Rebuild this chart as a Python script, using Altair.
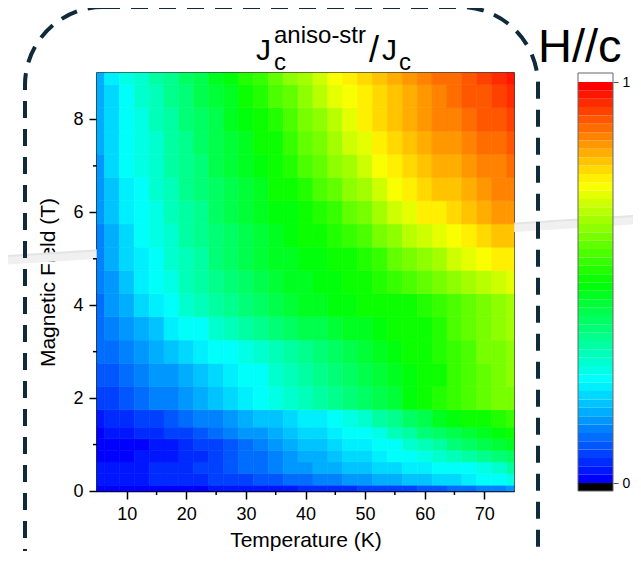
import altair as alt
import pandas as pd

# ---- data ----
temperature_K = [5, 7.5, 10, 12.5, 15, 17.5, 20, 22.5, 25, 27.5, 30, 32.5, 35, 37.5, 40,
                 42.5, 45, 47.5, 50, 52.5, 55, 57.5, 60, 62.5, 65, 67.5, 70, 72.5, 75]
field_T = [0, 0.25, 0.5, 0.75, 1, 1.25, 1.5, 2, 2.5, 3, 3.5, 4, 4.5, 5, 5.5, 6, 6.5, 7, 7.5, 8, 8.5, 9]

ratio_H0_00 = [0.01, 0.01, 0.01, 0.01, 0.02, 0.02, 0.02, 0.02, 0.03, 0.03, 0.03, 0.04, 0.04, 0.04, 0.05,
               0.05, 0.06, 0.06, 0.07, 0.07, 0.08, 0.08, 0.09, 0.10, 0.11, 0.12, 0.13, 0.14, 0.16]
ratio_H0_25 = [0.03, 0.03, 0.04, 0.04, 0.05, 0.05, 0.06, 0.06, 0.07, 0.07, 0.08, 0.09, 0.10, 0.11, 0.12,
               0.13, 0.14, 0.15, 0.16, 0.17, 0.18, 0.19, 0.20, 0.21, 0.22, 0.23, 0.25, 0.26, 0.28]
ratio_H0_50 = [0.03, 0.03, 0.04, 0.04, 0.05, 0.05, 0.06, 0.07, 0.08, 0.10, 0.11, 0.12, 0.13, 0.15, 0.16,
               0.17, 0.18, 0.19, 0.20, 0.21, 0.22, 0.23, 0.24, 0.25, 0.26, 0.27, 0.29, 0.31, 0.34]
ratio_H0_75 = [0.01, 0.02, 0.02, 0.03, 0.03, 0.04, 0.05, 0.06, 0.08, 0.09, 0.11, 0.12, 0.14, 0.15, 0.17,
               0.18, 0.20, 0.21, 0.22, 0.23, 0.25, 0.27, 0.29, 0.31, 0.33, 0.35, 0.37, 0.39, 0.41]
ratio_H1_00 = [0.01, 0.01, 0.02, 0.02, 0.03, 0.04, 0.05, 0.07, 0.08, 0.10, 0.12, 0.13, 0.15, 0.17, 0.19,
               0.20, 0.22, 0.23, 0.24, 0.25, 0.27, 0.30, 0.33, 0.35, 0.38, 0.40, 0.42, 0.44, 0.46]
ratio_H1_25 = [0.02, 0.03, 0.04, 0.05, 0.06, 0.07, 0.08, 0.10, 0.11, 0.13, 0.15, 0.16, 0.18, 0.19, 0.21,
               0.22, 0.23, 0.25, 0.27, 0.29, 0.32, 0.35, 0.38, 0.40, 0.43, 0.45, 0.47, 0.49, 0.51]
ratio_H1_50 = [0.04, 0.05, 0.06, 0.07, 0.08, 0.10, 0.11, 0.13, 0.14, 0.16, 0.17, 0.19, 0.20, 0.22, 0.23,
               0.24, 0.25, 0.28, 0.31, 0.34, 0.37, 0.40, 0.43, 0.46, 0.48, 0.50, 0.52, 0.54, 0.56]
ratio_H2_00 = [0.07, 0.08, 0.10, 0.11, 0.13, 0.14, 0.16, 0.18, 0.20, 0.22, 0.24, 0.26, 0.28, 0.30, 0.33,
               0.35, 0.37, 0.39, 0.41, 0.43, 0.45, 0.48, 0.50, 0.53, 0.55, 0.57, 0.59, 0.61, 0.62]
ratio_H2_50 = [0.09, 0.10, 0.12, 0.13, 0.15, 0.16, 0.18, 0.20, 0.22, 0.24, 0.25, 0.27, 0.30, 0.32, 0.35,
               0.37, 0.39, 0.41, 0.43, 0.45, 0.47, 0.49, 0.50, 0.52, 0.55, 0.57, 0.60, 0.61, 0.63]
ratio_H3_00 = [0.11, 0.12, 0.14, 0.16, 0.17, 0.19, 0.21, 0.23, 0.25, 0.27, 0.29, 0.31, 0.33, 0.35, 0.37,
               0.39, 0.40, 0.42, 0.44, 0.46, 0.48, 0.50, 0.51, 0.53, 0.56, 0.58, 0.61, 0.62, 0.63]
ratio_H3_50 = [0.12, 0.14, 0.16, 0.18, 0.20, 0.23, 0.25, 0.27, 0.30, 0.32, 0.34, 0.36, 0.38, 0.40, 0.42,
               0.43, 0.44, 0.46, 0.47, 0.48, 0.50, 0.51, 0.52, 0.54, 0.57, 0.59, 0.62, 0.63, 0.65]
ratio_H4_00 = [0.12, 0.15, 0.18, 0.21, 0.24, 0.27, 0.30, 0.32, 0.35, 0.37, 0.39, 0.41, 0.43, 0.45, 0.46,
               0.47, 0.48, 0.49, 0.50, 0.50, 0.51, 0.52, 0.53, 0.55, 0.58, 0.60, 0.62, 0.64, 0.66]
ratio_H4_50 = [0.13, 0.16, 0.20, 0.23, 0.26, 0.29, 0.32, 0.34, 0.37, 0.39, 0.41, 0.43, 0.45, 0.46, 0.47,
               0.48, 0.49, 0.51, 0.52, 0.53, 0.55, 0.57, 0.59, 0.61, 0.64, 0.66, 0.68, 0.70, 0.72]
ratio_H5_00 = [0.13, 0.17, 0.21, 0.24, 0.27, 0.30, 0.33, 0.35, 0.38, 0.40, 0.42, 0.44, 0.46, 0.47, 0.48,
               0.49, 0.50, 0.52, 0.54, 0.56, 0.59, 0.61, 0.64, 0.66, 0.69, 0.71, 0.74, 0.76, 0.77]
ratio_H5_50 = [0.14, 0.18, 0.22, 0.25, 0.28, 0.31, 0.34, 0.36, 0.39, 0.41, 0.43, 0.45, 0.47, 0.48, 0.50,
               0.51, 0.53, 0.56, 0.58, 0.61, 0.64, 0.67, 0.70, 0.72, 0.74, 0.76, 0.78, 0.80, 0.81]
ratio_H6_00 = [0.15, 0.19, 0.23, 0.26, 0.29, 0.32, 0.35, 0.37, 0.40, 0.42, 0.44, 0.46, 0.48, 0.49, 0.51,
               0.53, 0.56, 0.59, 0.62, 0.66, 0.69, 0.72, 0.75, 0.77, 0.79, 0.81, 0.82, 0.84, 0.85]
ratio_H6_50 = [0.16, 0.20, 0.24, 0.27, 0.30, 0.33, 0.36, 0.38, 0.41, 0.43, 0.45, 0.47, 0.50, 0.52, 0.54,
               0.57, 0.60, 0.63, 0.66, 0.70, 0.73, 0.75, 0.78, 0.80, 0.81, 0.83, 0.84, 0.86, 0.87]
ratio_H7_00 = [0.16, 0.21, 0.25, 0.28, 0.31, 0.34, 0.37, 0.39, 0.42, 0.44, 0.47, 0.49, 0.51, 0.54, 0.57,
               0.60, 0.63, 0.66, 0.69, 0.73, 0.76, 0.78, 0.80, 0.82, 0.83, 0.85, 0.86, 0.87, 0.88]
ratio_H7_50 = [0.17, 0.21, 0.25, 0.28, 0.31, 0.34, 0.37, 0.40, 0.42, 0.45, 0.47, 0.50, 0.52, 0.56, 0.59,
               0.62, 0.65, 0.69, 0.72, 0.75, 0.78, 0.80, 0.82, 0.84, 0.85, 0.87, 0.88, 0.89, 0.90]
ratio_H8_00 = [0.17, 0.22, 0.26, 0.29, 0.32, 0.35, 0.38, 0.41, 0.43, 0.46, 0.48, 0.51, 0.54, 0.58, 0.61,
               0.64, 0.68, 0.72, 0.75, 0.78, 0.80, 0.82, 0.84, 0.86, 0.87, 0.89, 0.90, 0.91, 0.92]
ratio_H8_50 = [0.18, 0.22, 0.27, 0.30, 0.33, 0.36, 0.39, 0.42, 0.45, 0.47, 0.50, 0.53, 0.57, 0.60, 0.63,
               0.67, 0.71, 0.74, 0.77, 0.79, 0.81, 0.83, 0.85, 0.87, 0.88, 0.90, 0.91, 0.93, 0.94]
ratio_H9_00 = [0.18, 0.23, 0.28, 0.31, 0.34, 0.37, 0.40, 0.43, 0.46, 0.49, 0.53, 0.56, 0.60, 0.63, 0.66,
               0.70, 0.74, 0.77, 0.79, 0.81, 0.83, 0.85, 0.86, 0.88, 0.89, 0.91, 0.93, 0.94, 0.96]

ratio_rows = [ratio_H0_00, ratio_H0_25, ratio_H0_50, ratio_H0_75, ratio_H1_00, ratio_H1_25,
              ratio_H1_50, ratio_H2_00, ratio_H2_50, ratio_H3_00, ratio_H3_50, ratio_H4_00,
              ratio_H4_50, ratio_H5_00, ratio_H5_50, ratio_H6_00, ratio_H6_50, ratio_H7_00,
              ratio_H7_50, ratio_H8_00, ratio_H8_50, ratio_H9_00]

x_ticks = [10, 20, 30, 40, 50, 60, 70]
x_minor = [15, 25, 35, 45, 55, 65]
y_ticks = [0, 2, 4, 6, 8]
y_minor = [1, 3, 5, 7]
cbar_ticks = [0, 1]
n_levels = 48

# ---- palette (Origin-like rainbow) ----
anchors = [(0.0, (0, 0, 255)), (0.25, (0, 255, 255)), (0.5, (0, 255, 0)),
           (0.75, (255, 255, 0)), (1.0, (255, 0, 0))]


def rainbow(p):
    for (p0, c0), (p1, c1) in zip(anchors[:-1], anchors[1:]):
        if p <= p1:
            f = (p - p0) / (p1 - p0)
            return "#%02x%02x%02x" % tuple(int(round(a + (b - a) * f)) for a, b in zip(c0, c1))
    return "#ff0000"


palette = [rainbow(i / (n_levels - 1)) for i in range(n_levels)]
cscale = alt.Scale(type="quantize", domain=[0, 1], range=palette)


# ---- cells ----
def edges(vals, lo, hi):
    out = []
    for i, v in enumerate(vals):
        a = lo if i == 0 else (vals[i - 1] + v) / 2
        b = hi if i == len(vals) - 1 else (vals[i + 1] + v) / 2
        out.append((a, b))
    return out


t_edges = edges(temperature_K, 5, 75)
h_edges = edges(field_T, 0, 9)
rows = []
for i, h in enumerate(field_T):
    for j, t in enumerate(temperature_K):
        rows.append({"T0": t_edges[j][0], "T1": t_edges[j][1],
                     "H0": h_edges[i][0], "H1": h_edges[i][1],
                     "v": ratio_rows[i][j]})
cells = pd.DataFrame(rows)

W, H = 417, 418
xscale = alt.Scale(domain=[5, 75], nice=False, zero=False)
yscale = alt.Scale(domain=[0, 9], nice=False, zero=False)
cb_lo, cb_hi = -8 / 401, 1 + 9 / 401
cbscale = alt.Scale(domain=[cb_lo, cb_hi], nice=False, zero=False)

one = pd.DataFrame({"a": [0]})

shadow = alt.Chart(one).mark_rule(color="#f0f0f0", strokeWidth=9).encode(
    x=alt.value(-89), y=alt.value(187), x2=alt.value(536), y2=alt.value(147))
shadow_edge = alt.Chart(one).mark_rule(color="#e4e4e4", strokeWidth=2).encode(
    x=alt.value(-89), y=alt.value(183), x2=alt.value(536), y2=alt.value(143))

heat = alt.Chart(cells).mark_rect(strokeWidth=0.6).encode(
    x=alt.X("T0:Q", scale=xscale,
            axis=alt.Axis(values=x_ticks, title="Temperature (K)", format="d",
                          tickSize=8, labelPadding=6, titlePadding=6, grid=False)),
    x2="T1:Q",
    y=alt.Y("H0:Q", scale=yscale,
            axis=alt.Axis(values=y_ticks, title="Magnetic Field (T)", format="d",
                          tickSize=8, labelPadding=6, titlePadding=14, grid=False)),
    y2="H1:Q",
    color=alt.Color("v:Q", scale=cscale, legend=None),
    stroke=alt.Stroke("v:Q", scale=cscale, legend=None),
)

minor_x = alt.Chart(pd.DataFrame({"T": x_minor})).mark_rule(color="black", strokeWidth=1.5).encode(
    x=alt.X("T:Q", scale=xscale), y=alt.value(H), y2=alt.value(H + 4))
minor_y = alt.Chart(pd.DataFrame({"Hf": y_minor})).mark_rule(color="black", strokeWidth=1.5).encode(
    y=alt.Y("Hf:Q", scale=yscale, axis=None), x=alt.value(0), x2=alt.value(-4))

box = alt.Chart(one).mark_rect(fill="transparent", stroke="#0f2b3b", strokeWidth=4,
                               strokeDash=[17, 11], cornerRadius=78).encode(
    x=alt.value(-72), x2=alt.value(441), y=alt.value(-66), y2=alt.value(560))


def txt(s, x, y, size):
    return alt.Chart(one).mark_text(text=s, fontSize=size, align="left", baseline="alphabetic",
                                    color="black", font="Liberation Sans").encode(
        x=alt.value(x), y=alt.value(y))


title_layers = [
    txt("J", 159, -13, 30),
    txt("c", 177, -3, 24),
    txt("aniso-str", 177, -30, 24),
    txt("/", 272, -11, 36),
    txt("J", 285, -13, 30),
    txt("c", 302, -3, 24),
    txt("H//c", 441, -11, 47),
]

bands = pd.DataFrame({
    "lo": [i / n_levels for i in range(n_levels)],
    "hi": [(i + 1) / n_levels for i in range(n_levels)],
    "v": [(i + 0.5) / n_levels for i in range(n_levels)],
})
cbar = alt.Chart(bands).mark_rect().encode(
    x=alt.value(481), x2=alt.value(516),
    y=alt.Y("lo:Q", scale=cbscale,
            axis=alt.Axis(orient="right", offset=99, values=cbar_ticks, format="d", domain=False,
                          tickSize=5, tickColor="#555", tickWidth=1, labelFontSize=14,
                          labelPadding=4, title=None, grid=False)),
    y2="hi:Q",
    color=alt.Color("v:Q", scale=cscale, legend=None),
)
caps = alt.Chart(pd.DataFrame({"lo": [cb_lo, 1], "hi": [0, cb_hi], "f": ["black", "white"]})).mark_rect().encode(
    x=alt.value(481), x2=alt.value(516),
    y=alt.Y("lo:Q", scale=cbscale, axis=None), y2="hi:Q",
    fill=alt.Fill("f:N", scale=None),
)
cbar_border = alt.Chart(one).mark_rect(fill="transparent", stroke="#666", strokeWidth=1).encode(
    x=alt.value(481), x2=alt.value(516), y=alt.value(0), y2=alt.value(418))

chart = alt.layer(shadow, shadow_edge, heat, minor_x, minor_y, box, *title_layers,
                  cbar, caps, cbar_border).resolve_scale(
    y="independent", color="shared"
).properties(
    width=W, height=H,
    autosize=alt.AutoSizeParams(type="none"),
    padding={"left": 89, "top": 65, "right": 119, "bottom": 60},
).configure(font="Liberation Sans").configure_view(
    stroke="black", strokeWidth=1.5
).configure_axis(
    labelFontSize=18, titleFontSize=21, labelColor="black", titleColor="black",
    tickColor="black", domainColor="black", domainWidth=1.5, tickWidth=1.5,
    titleFontWeight="normal",
)

chart.save("out.html", embed_options={"renderer": "svg", "actions": False})
